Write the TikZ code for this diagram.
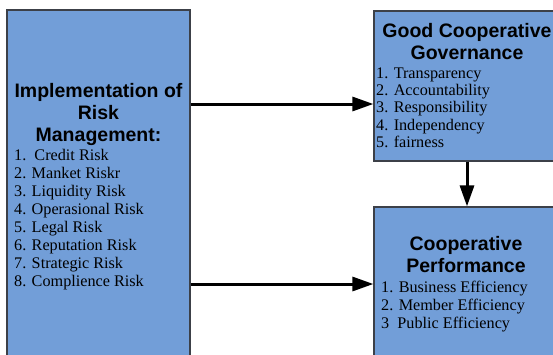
\documentclass[tikz,border=0pt]{standalone}
\usepackage{fontspec}
\setmainfont{Liberation Serif}
\setsansfont{Liberation Sans}
\usetikzlibrary{arrows.meta}
\definecolor{boxblue}{RGB}{114,158,216}
\definecolor{boxline}{RGB}{60,64,72}

\begin{document}
\begin{tikzpicture}[x=1pt, y=-1pt,
    box/.style = {shape=rectangle, draw=boxline, line width=1.2pt, fill=boxblue, inner sep=0pt},
    head/.style = {align=center, inner sep=0pt, font=\sffamily\bfseries\fontsize{19.5}{22}\selectfont},
    items/.style = {align=left, inner sep=0pt, anchor=west, font=\fontsize{16.2}{18}\selectfont},
    link/.style = {line width=3pt, -{Triangle[length=21pt, width=14pt]}}]
    \useasboundingbox (0,0) rectangle (553,354);
    \clip (0,0) rectangle (553,354);
    % three boxes
    \node[box, minimum width=183pt, minimum height=370pt] (risk) at (98.5,195) {};
    \node[box, minimum width=186pt, minimum height=150pt] (gcg) at (467,86) {};
    \node[box, minimum width=186pt, minimum height=173pt] (perf) at (467,293.5) {};
    % texts
    \node[head] (riskhead) at (98.5,114) {Implementation of\\Risk\\Management:};
    \node[items] (risklist) at (14,219.5) {1.\ \ Credit Risk\\2. Manket Riskr\\3. Liquidity Risk\\4. Operasional Risk\\5. Legal Risk\\6. Reputation Risk\\7. Strategic Risk\\8. Complience Risk};
    \node[head] (gcghead) at (467,42) {Good Cooperative\\Governance};
    \node[items, font=\fontsize{16.2}{17.3}\selectfont] (gcglist) at (376,107.5) {1. Transparency\\2. Accountability\\3. Responsibility\\4. Independency\\5. fairness};
    \node[head] (perfhead) at (466,255) {Cooperative\\Performance};
    \node[items] (perflist) at (381,307) {1. Business Efficiency\\2. Member Efficiency\\3\ \ Public Efficiency};
    % arrows
    \coordinate (in1) at ([yshift=-18pt]gcg.west);
    \coordinate (in2) at ([yshift=9.5pt]perf.west);
    \draw[link] (risk.east |- in1) -- (in1);
    \draw[link] (risk.east |- in2) -- (in2);
    \draw[link] (gcg.south) -- (perf.north);
\end{tikzpicture}
\end{document}
